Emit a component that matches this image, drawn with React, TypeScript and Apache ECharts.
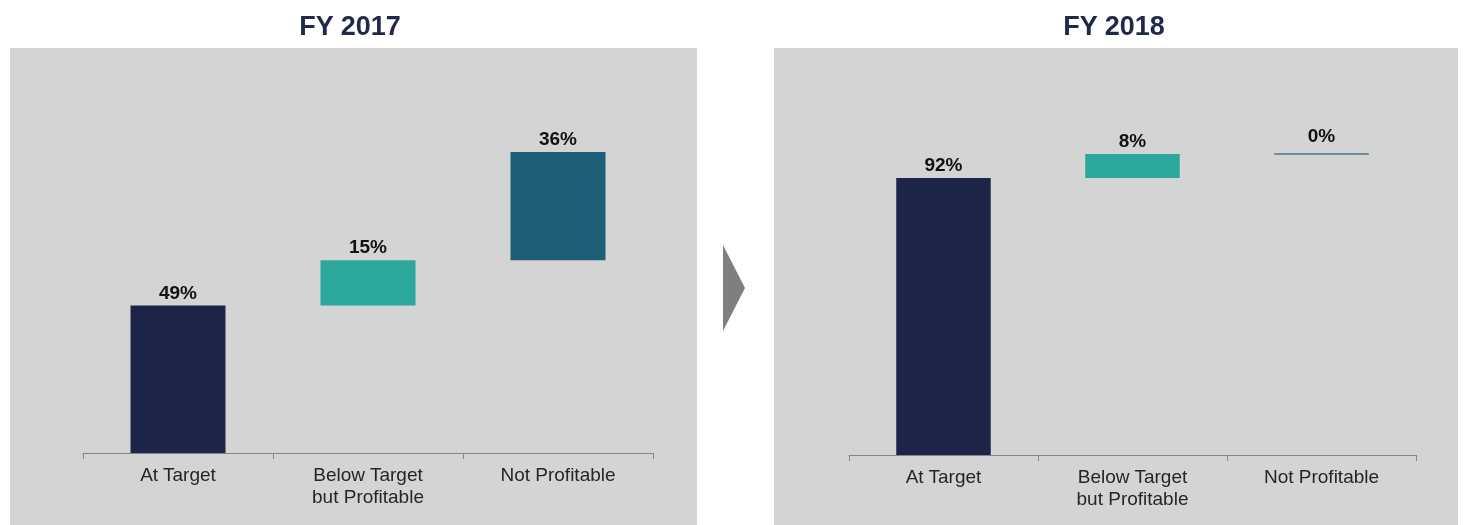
import React, { useEffect, useRef } from "react";
import * as echarts from "echarts";

const categories = ["At Target", "Below Target\nbut Profitable", "Not Profitable"];
const panelTitles = ["FY 2017", "FY 2018"];
const values2017 = [49, 15, 36];
const values2018 = [92, 8, 0];

const barColors = ["#1c2448", "#2ba89b", "#1d5f77"];
const zeroColor = "#6a8ea0";

function bases(vals: number[]): number[] {
  const out: number[] = [];
  let acc = 0;
  for (const v of vals) {
    out.push(acc);
    acc += v;
  }
  return out;
}

export default function App() {
  const ref = useRef<HTMLDivElement>(null);
  useEffect(() => {
    if (!ref.current) return;
    const chart = echarts.init(ref.current, undefined, { renderer: "svg" });
    const font = "'Liberation Sans', Arial, sans-serif";
    const datasets = [values2017, values2018];
    const grids = [
      { left: 83, width: 570, top: 152, height: 301 },
      { left: 849, width: 567, top: 154, height: 301 },
    ];
    const series: any[] = [];
    datasets.forEach((vals, gi) => {
      const b = bases(vals);
      series.push({
        type: "bar",
        xAxisIndex: gi,
        yAxisIndex: gi,
        stack: "wf" + gi,
        barWidth: "50%",
        itemStyle: { color: "transparent" },
        silent: true,
        data: b,
      });
      series.push({
        type: "bar",
        xAxisIndex: gi,
        yAxisIndex: gi,
        stack: "wf" + gi,
        barWidth: "50%",
        data: vals.map((v, i) => ({
          value: v,
          itemStyle: { color: barColors[i] },
          label: v === 0 ? { distance: 9 } : undefined,
        })),
        label: {
          show: true,
          position: "top",
          distance: 4,
          formatter: "{c}%",
          fontFamily: font,
          fontWeight: "bold",
          fontSize: 19,
          color: "#111111",
        },
      });
      // thin line marking zero-valued steps
      const zeroItems = vals
        .map((v, i) => (v === 0 ? [i, b[i]] : null))
        .filter((d) => d !== null);
      if (zeroItems.length) {
        series.push({
          type: "custom",
          xAxisIndex: gi,
          yAxisIndex: gi,
          silent: true,
          data: zeroItems,
          renderItem: (params: any, api: any) => {
            const p = api.coord([api.value(0), api.value(1)]);
            const w = api.size([1, 0])[0] * 0.5;
            return {
              type: "rect",
              shape: { x: p[0] - w / 2, y: p[1] - 1, width: w, height: 2 },
              style: { fill: zeroColor },
            };
          },
        });
      }
    });
    chart.setOption({
      animation: false,
      graphic: [
        { type: "rect", z: -10, shape: { x: 10, y: 48, width: 687, height: 477 }, style: { fill: "#d4d4d4" } },
        { type: "rect", z: -10, shape: { x: 774, y: 48, width: 684, height: 477 }, style: { fill: "#d4d4d4" } },
        { type: "polygon", shape: { points: [[723, 245], [745, 288], [723, 331]] }, style: { fill: "#7f7f80" } },
        {
          type: "text", x: 350, y: 26,
          style: { text: panelTitles[0], fontFamily: font, fontWeight: "bold", fontSize: 27, fill: "#1f2a4a", align: "center", verticalAlign: "middle" },
        },
        {
          type: "text", x: 1114, y: 26,
          style: { text: panelTitles[1], fontFamily: font, fontWeight: "bold", fontSize: 27, fill: "#1f2a4a", align: "center", verticalAlign: "middle" },
        },
      ],
      grid: grids,
      xAxis: grids.map((_, gi) => ({
        type: "category",
        gridIndex: gi,
        data: categories,
        axisLine: { lineStyle: { color: "#858585", width: 1 } },
        axisTick: { show: true, length: 6, lineStyle: { color: "#858585" } },
        axisLabel: { interval: 0, margin: 10, fontFamily: font, fontSize: 19, color: "#262626", lineHeight: 22 },
      })),
      yAxis: grids.map((_, gi) => ({
        type: "value",
        gridIndex: gi,
        min: 0,
        max: 100,
        show: false,
        splitLine: { show: false },
      })),
      series,
    });
    return () => chart.dispose();
  }, []);
  return <div ref={ref} style={{ position: "fixed", left: 0, top: 0, width: 1464, height: 525 }} />;
}
